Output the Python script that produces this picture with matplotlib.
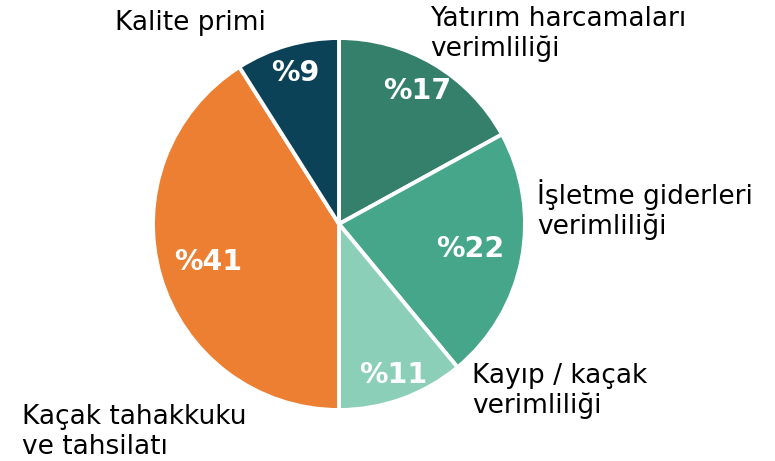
import numpy as np
import matplotlib
matplotlib.use("Agg")
import matplotlib.pyplot as plt

categories = ["Yatırım harcamaları\nverimliliği", "İşletme giderleri\nverimliliği",
              "Kayıp / kaçak\nverimliliği", "Kaçak tahakkuku\nve tahsilatı", "Kalite primi"]
values = [17, 22, 11, 41, 9]
pct_labels = ["%17", "%22", "%11", "%41", "%9"]
colors = ["#35806A", "#46A68A", "#8BCFB9", "#ED7F32", "#0C4257"]

# label placement (style)
pct_dist = [0.83, 0.72, 0.86, 0.73, 0.845]
label_pos = [(430, 26), (537, 204), (472, 383), (22, 424), (115, 30)]
line_gap = 30

W, H = 775, 461
fig = plt.figure(figsize=(W / 100, H / 100), dpi=100)
ax = fig.add_axes([0, 0, 1, 1])

cx, cy, R = 339, H - 224, 186
wedges, _ = ax.pie(values, colors=colors, startangle=90, counterclock=False,
                   center=(cx, cy), radius=R, frame=True,
                   wedgeprops=dict(edgecolor="white", linewidth=2.8))
ax.set_xlim(0, W)
ax.set_ylim(0, H)
ax.set_aspect("equal")
ax.axis("off")

for w, lab, d in zip(wedges, pct_labels, pct_dist):
    ang = np.deg2rad((w.theta1 + w.theta2) / 2)
    ax.text(cx + d * R * np.cos(ang), cy + d * R * np.sin(ang), lab,
            ha="center", va="center", color="white", fontsize=20.5, fontweight="bold")

for lab, (x, y) in zip(categories, label_pos):
    for i, line in enumerate(lab.split("\n")):
        ax.text(x, H - y - i * line_gap, line, ha="left", va="baseline",
                fontsize=19, color="black")

fig.savefig("out.png", dpi=100)
